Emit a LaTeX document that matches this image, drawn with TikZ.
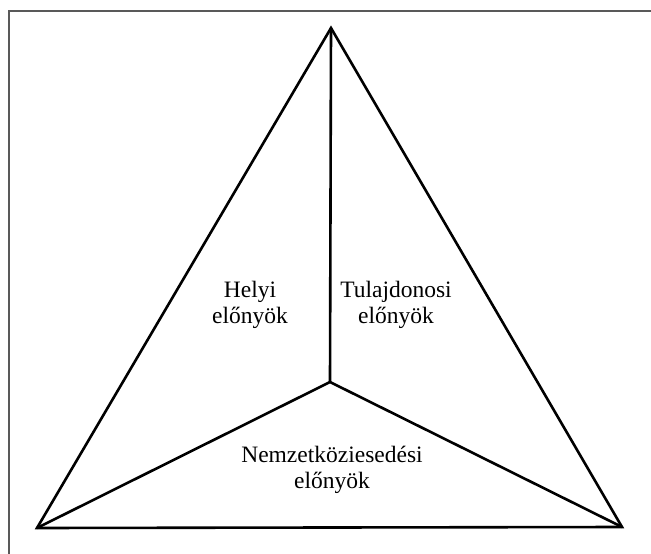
\documentclass[tikz,border=0pt]{standalone}
\usepackage{fontspec}
\setmainfont{Liberation Serif}
\begin{document}
\begin{tikzpicture}[x=1pt,y=-1pt,
  edge/.style={line width=2.6pt,line join=miter},
  frameline/.style={line width=2pt,draw=black!65},
  label/.style={font=\fontsize{23.5}{26.5}\selectfont,align=center,inner sep=0pt}]
  \useasboundingbox (0,0) rectangle (651,554);
  % outer frame (top and left edges)
  \draw[frameline] (651,10.5) -- (8.5,10.5) -- (8.5,554);
  % triangle corners and centre
  \coordinate (top) at (331,28);
  \coordinate (bl) at (37,528);
  \coordinate (br) at (622,527);
  \coordinate (mid) at (330,382);
  \draw[edge] (top) -- (bl) -- (br) -- cycle;
  \draw[edge] (top) -- (mid);
  \draw[edge] (bl) -- (mid) -- (br);
  % region labels
  \node[label] (helyi) at (250,305) {Helyi\\előnyök};
  \node[label] (tulaj) at (396,305) {Tulajdonosi\\előnyök};
  \node[label] (nemz) at (332,470) {Nemzetköziesedési\\előnyök};
\end{tikzpicture}
\end{document}
